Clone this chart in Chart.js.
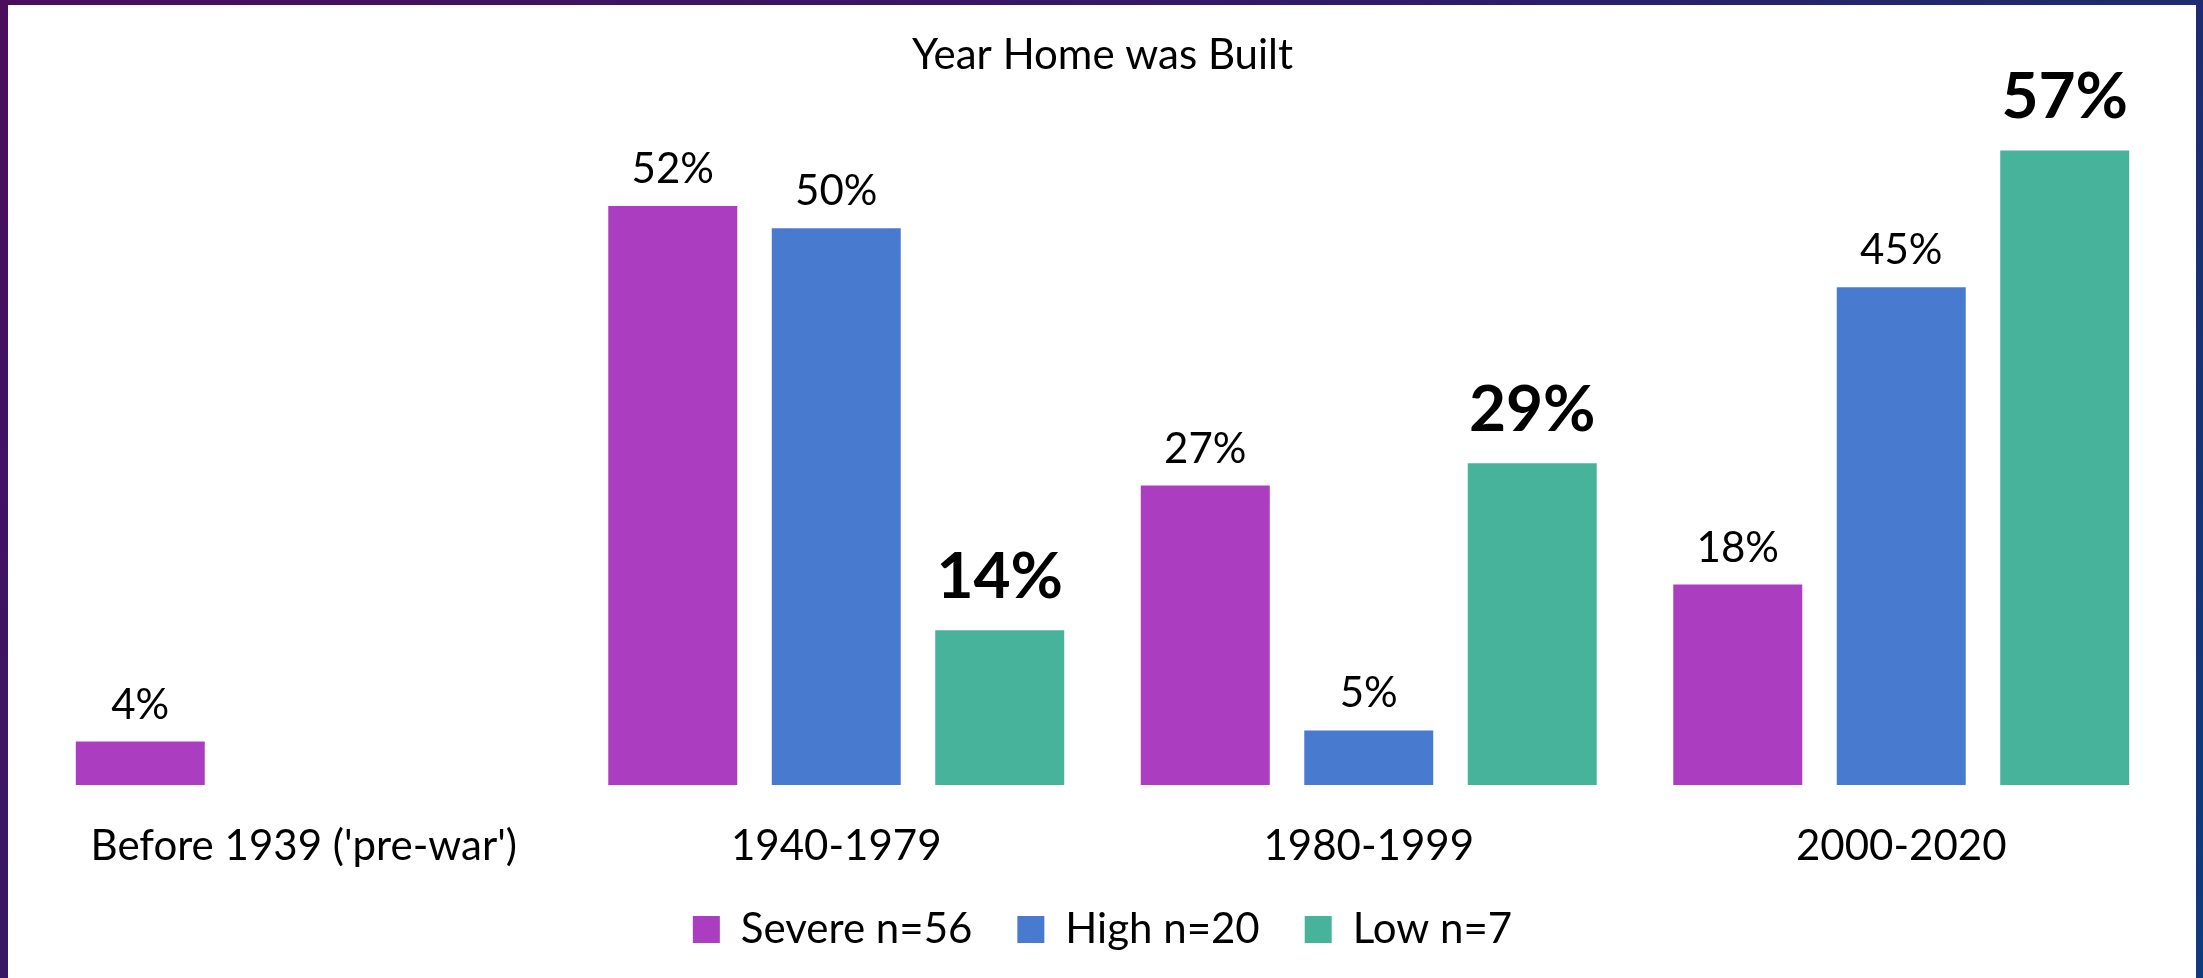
<!DOCTYPE html>
<html>
<head>
<meta charset="utf-8">
<script src="https://cdn.jsdelivr.net/npm/chart.js@4.4.1/dist/chart.umd.min.js"></script>
<style>
html, body { margin: 0; padding: 0; width: 2203px; height: 978px; overflow: hidden; }
body { position: relative; background: linear-gradient(135deg, #4a0e5b 0%, #2f1c6a 45%, #1f2a70 65%, #0f3a82 100%); }
#box { position: absolute; left: 8px; top: 5px; width: 2188px; height: 973px; background: #ffffff; }
canvas { display: block; }
</style>
</head>
<body>
<div id="box"><canvas id="c" width="2188" height="973"></canvas></div>
<script>
const chartTitle = "Year Home was Built";
const categories = ["Before 1939 ('pre-war')", "1940-1979", "1980-1999", "2000-2020"];
const seriesNames = ["Severe n=56", "High n=20", "Low n=7"];
const severe = [3.9, 52, 26.9, 18];
const high = [null, 50, 4.9, 44.7];
const low = [null, 13.9, 28.9, 57];

const FONT = "Lato, 'Open Sans', sans-serif";

const valueLabels = {
  id: 'valueLabels',
  afterDatasetsDraw(chart) {
    const ctx = chart.ctx;
    chart.data.datasets.forEach((ds, i) => {
      const meta = chart.getDatasetMeta(i);
      const st = ds.labelStyle;
      meta.data.forEach((bar, j) => {
        const v = ds.data[j];
        if (v === null || v === undefined) return;
        ctx.save();
        ctx.font = st.font;
        ctx.fillStyle = '#000000';
        ctx.textAlign = 'center';
        ctx.textBaseline = 'alphabetic';
        ctx.fillText(Math.round(v) + '%', bar.x, bar.y - st.offset);
        ctx.restore();
      });
    });
  }
};

new Chart(document.getElementById('c'), {
  type: 'bar',
  data: {
    labels: categories,
    datasets: [
      { label: seriesNames[0], data: severe, backgroundColor: '#AB3EC0',
        labelStyle: { font: "400 42px " + FONT, offset: 23 } },
      { label: seriesNames[1], data: high, backgroundColor: '#487BD0',
        labelStyle: { font: "400 42px " + FONT, offset: 23 } },
      { label: seriesNames[2], data: low, backgroundColor: '#47B39B',
        labelStyle: { font: "700 64px " + FONT, offset: 32 } }
    ]
  },
  options: {
    responsive: false,
    animation: false,
    devicePixelRatio: 1,
    layout: { padding: { left: 29.5, right: 28.5, top: 0, bottom: 17.5 } },
    datasets: { bar: { categoryPercentage: 0.921, barPercentage: 0.789 } },
    scales: {
      x: {
        grid: { display: false, drawTicks: false },
        border: { display: false },
        ticks: { color: '#000000', font: { family: FONT, size: 42 }, padding: 36.5, maxRotation: 0, autoSkip: false },
        afterFit: (scale) => {
          scale.height = 78.5;
          scale._computeLabelArea = () => undefined;
        }
      },
      y: { display: false, min: 0, max: 60 }
    },
    plugins: {
      title: {
        display: true, text: chartTitle, color: '#000000',
        font: { family: FONT, size: 42, weight: '400' },
        padding: { top: 25.6, bottom: 36 }
      },
      legend: {
        position: 'bottom',
        labels: { color: '#000000', font: { family: FONT, size: 42 }, boxWidth: 27, boxHeight: 27, padding: 45 }
      },
      tooltip: { enabled: false }
    }
  },
  plugins: [valueLabels]
});
</script>
</body>
</html>
